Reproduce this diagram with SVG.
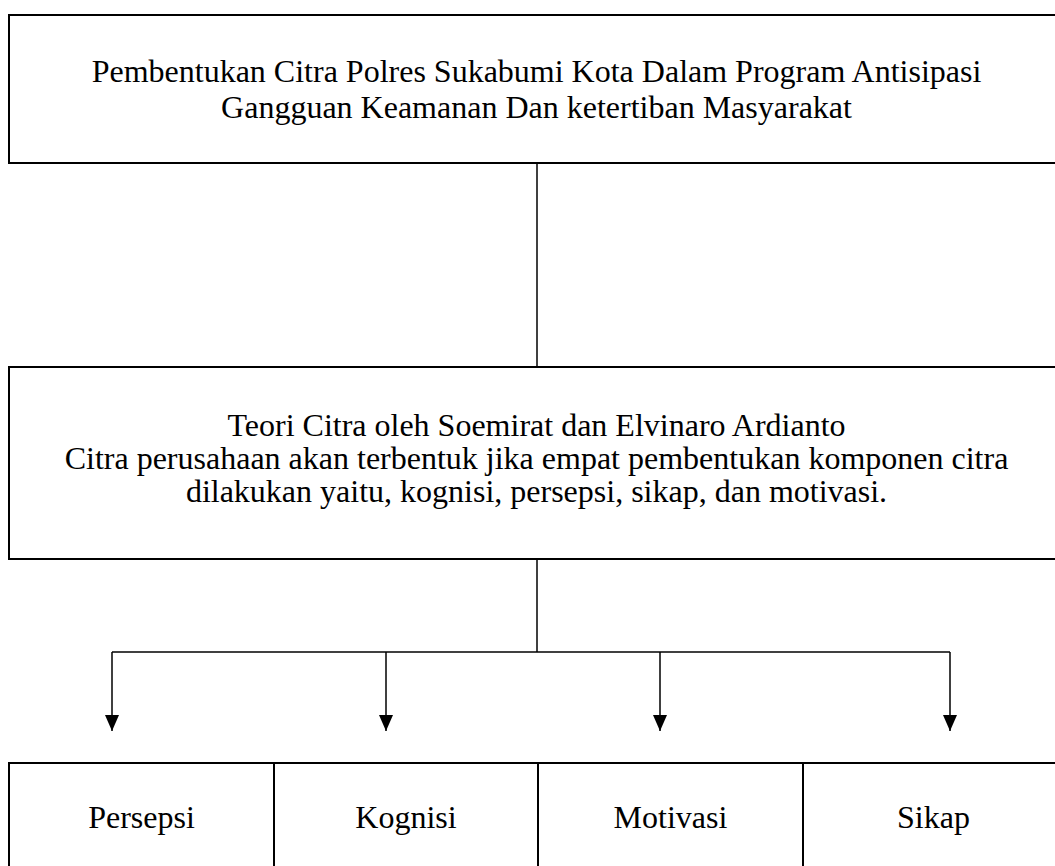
<svg xmlns="http://www.w3.org/2000/svg" width="1055" height="866" viewBox="0 0 1055 866">
<defs>
<style>
.box{fill:#fff;stroke:#000;stroke-width:2}
.t{font-family:"Liberation Serif","Times New Roman",serif;font-size:32px;fill:#000;text-anchor:middle}
.c{stroke:#000;stroke-width:1.5;fill:none}
</style>
<marker id="ah" viewBox="0 0 16 14" refX="16" refY="7" markerWidth="16" markerHeight="14" markerUnits="userSpaceOnUse" orient="auto">
<path d="M0,0 L16,7 L0,14 Z" fill="#000"/>
</marker>
</defs>
<rect width="1055" height="866" fill="#fff"/>
<g id="node-top">
<rect class="box" x="9" y="15" width="1055" height="148"/>
<text class="t" x="536.5" y="82">Pembentukan Citra Polres Sukabumi Kota Dalam Program Antisipasi</text>
<text class="t" x="536.5" y="118">Gangguan Keamanan Dan ketertiban Masyarakat</text>
</g>
<g id="node-teori">
<rect class="box" x="9" y="367" width="1055" height="192"/>
<text class="t" x="536.5" y="436">Teori Citra oleh Soemirat dan Elvinaro Ardianto</text>
<text class="t" x="536.5" y="469">Citra perusahaan akan terbentuk jika empat pembentukan komponen citra</text>
<text class="t" x="536.5" y="502">dilakukan yaitu, kognisi, persepsi, sikap, dan motivasi.</text>
</g>
<g id="node-persepsi">
<rect class="box" x="9" y="763" width="265" height="140"/>
<text class="t" x="141.5" y="828">Persepsi</text>
</g>
<g id="node-kognisi">
<rect class="box" x="274" y="763" width="264" height="140"/>
<text class="t" x="406" y="828">Kognisi</text>
</g>
<g id="node-motivasi">
<rect class="box" x="538" y="763" width="265" height="140"/>
<text class="t" x="670.5" y="828">Motivasi</text>
</g>
<g id="node-sikap">
<rect class="box" x="803" y="763" width="261" height="140"/>
<text class="t" x="933.5" y="828">Sikap</text>
</g>
<g id="connectors">
<line class="c" x1="537" y1="163" x2="537" y2="367"/>
<line class="c" x1="537" y1="559" x2="537" y2="652"/>
<line class="c" x1="112" y1="652" x2="950" y2="652"/>
<line class="c" x1="112" y1="652" x2="112" y2="731" marker-end="url(#ah)"/>
<line class="c" x1="386" y1="652" x2="386" y2="731" marker-end="url(#ah)"/>
<line class="c" x1="660" y1="652" x2="660" y2="731" marker-end="url(#ah)"/>
<line class="c" x1="950" y1="652" x2="950" y2="731" marker-end="url(#ah)"/>
</g>
</svg>
